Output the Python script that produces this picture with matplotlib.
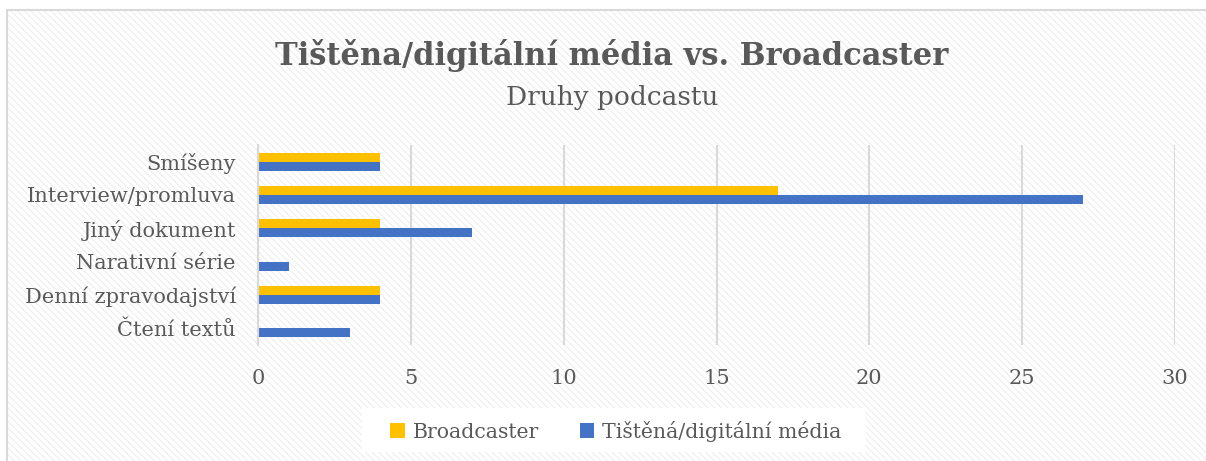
import matplotlib
matplotlib.use("Agg")
import matplotlib.pyplot as plt
import numpy as np
from matplotlib.patches import Rectangle

# data (bottom to top, like Excel draws it)
categories = ["Čtení textů", "Denní zpravodajství", "Narativní série",
              "Jiný dokument", "Interview/promluva", "Smíšeny"]
broadcaster = [0, 4, 0, 4, 17, 4]
tistena = [3, 4, 1, 7, 27, 4]
series_names = ["Broadcaster", "Tištěná/digitální média"]
xticks = [0, 5, 10, 15, 20, 25, 30]

yellow = "#FFC000"
blue = "#4472C4"
txt = "#595959"
grid = "#D9D9D9"

plt.rcParams["font.family"] = ["DejaVu Serif"]
plt.rcParams["hatch.linewidth"] = 0.8

W, H = 1206, 461
fig = plt.figure(figsize=(W / 100, H / 100), dpi=100)
fig.patch.set_facecolor("white")

# striped chart background + thin border
bg = Rectangle((7 / W, 0), 1 - 7 / W, 1 - 10 / H, transform=fig.transFigure,
               facecolor="white", edgecolor="#EEEEEE", hatch="\\" * 5,
               linewidth=0, zorder=-10)
fig.patches.append(bg)
border = Rectangle((7 / W, -0.01), 1.01, 1 - 10 / H + 0.01, transform=fig.transFigure,
                   facecolor="none", edgecolor="#D9D9D9", linewidth=1.5, zorder=-9)
fig.patches.append(border)

ax = fig.add_axes([258 / W, 1 - 345 / H, 917 / W, 200 / H])
ax.patch.set_alpha(0)

y = np.arange(len(categories))
h = 0.27
ax.barh(y + h / 2, broadcaster, height=h, color=yellow, label=series_names[0], zorder=3)
ax.barh(y - h / 2, tistena, height=h, color=blue, label=series_names[1], zorder=3)

ax.set_xlim(0, 30)
ax.set_ylim(-0.5, len(categories) - 0.5)
ax.set_xticks(xticks)
ax.set_yticks(y)
ax.set_yticklabels(categories)
ax.tick_params(length=0, labelsize=15, colors=txt)
ax.tick_params(axis="y", pad=16)
ax.tick_params(axis="x", pad=17)
ax.grid(axis="x", color=grid, linewidth=1.5, zorder=0)
for s in ["top", "right", "bottom"]:
    ax.spines[s].set_visible(False)
ax.spines["left"].set_color(grid)
ax.spines["left"].set_linewidth(1.5)
ax.spines["left"].set_zorder(4)

fig.text(612 / W, 1 - 55 / H, "Tištěna/digitální média vs. Broadcaster",
         ha="center", va="center", fontsize=22, fontweight="bold", color=txt)
fig.text(612 / W, 1 - 97 / H, "Druhy podcastu",
         ha="center", va="center", fontsize=19, color=txt)

# legend with white box
lbox = Rectangle((362 / W, 1 - 452 / H), 503 / W, 44 / H, transform=fig.transFigure,
                 facecolor="white", edgecolor="none", zorder=-5)
fig.patches.append(lbox)
leg = fig.legend(loc="center", bbox_to_anchor=(616 / W, 1 - 431 / H), ncol=2,
                 frameon=False, fontsize=14.7, handlelength=0.7, handleheight=0.7,
                 handletextpad=0.4, columnspacing=2.0)
for t in leg.get_texts():
    t.set_color(txt)

fig.savefig("out.png", dpi=100)
